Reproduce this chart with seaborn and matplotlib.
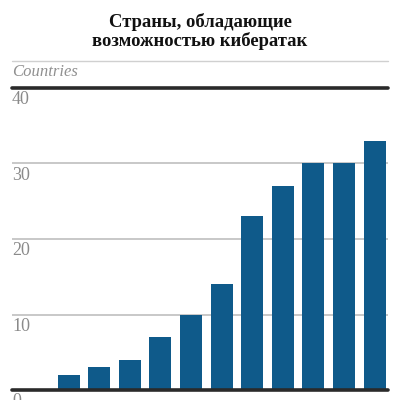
import matplotlib
matplotlib.use("Agg")
import matplotlib.pyplot as plt
import matplotlib.transforms as mtransforms
import seaborn as sns
import pandas as pd

title = "Страны, обладающие\nвозможностью кибератак"
unit_label = "Countries"
categories = [str(i) for i in range(1, 12)]
values = [2, 3, 4, 7, 10, 14, 23, 27, 30, 30, 33]
yticks = [0, 10, 20, 30, 40]

df = pd.DataFrame({"cat": categories, "val": values})

sns.set_theme(style="white")
plt.rcParams["font.family"] = ["Liberation Serif", "DejaVu Serif"]

fig = plt.figure(figsize=(4, 4), dpi=100)
ax = fig.add_axes([0.03, 0.025, 0.94, 0.755])

sns.barplot(data=df, x="cat", y="val", color="#0f5a8a", saturation=1,
            width=0.72, linewidth=0, ax=ax, zorder=3)

ax.set_xlim(-1.85, 10.44)
ax.set_ylim(0, 40)
ax.set_xticks([])
ax.set_yticks([])
ax.set_xlabel("")
ax.set_ylabel("")
for s in ax.spines.values():
    s.set_visible(False)

trans = mtransforms.blended_transform_factory(ax.transAxes, ax.transData)
for t in yticks:
    if t in (0, 40):
        ax.axhline(t, color="#2a2a2a", lw=2.6, zorder=4, clip_on=False)
    else:
        ax.axhline(t, color="#c4c4c4", lw=1.3, zorder=1)
    off = mtransforms.offset_copy(trans, fig=fig, x=0, y=-2.5, units="points")
    ax.text(0.0, t, str(t), transform=off, ha="left", va="top",
            fontsize=13, color="#8a8a8a", zorder=5)

fig.text(0.5, 0.921, title, ha="center", va="center", fontsize=13.4,
         fontweight="bold", color="#111111", linespacing=1.1)
fig.add_artist(plt.Line2D([0.03, 0.97], [0.848, 0.848], color="#d0d0d0", lw=1.0))
fig.text(0.03, 0.8, unit_label, ha="left", va="bottom", fontsize=12,
         style="italic", color="#909090")

fig.savefig("out.png", dpi=100, facecolor="white")
